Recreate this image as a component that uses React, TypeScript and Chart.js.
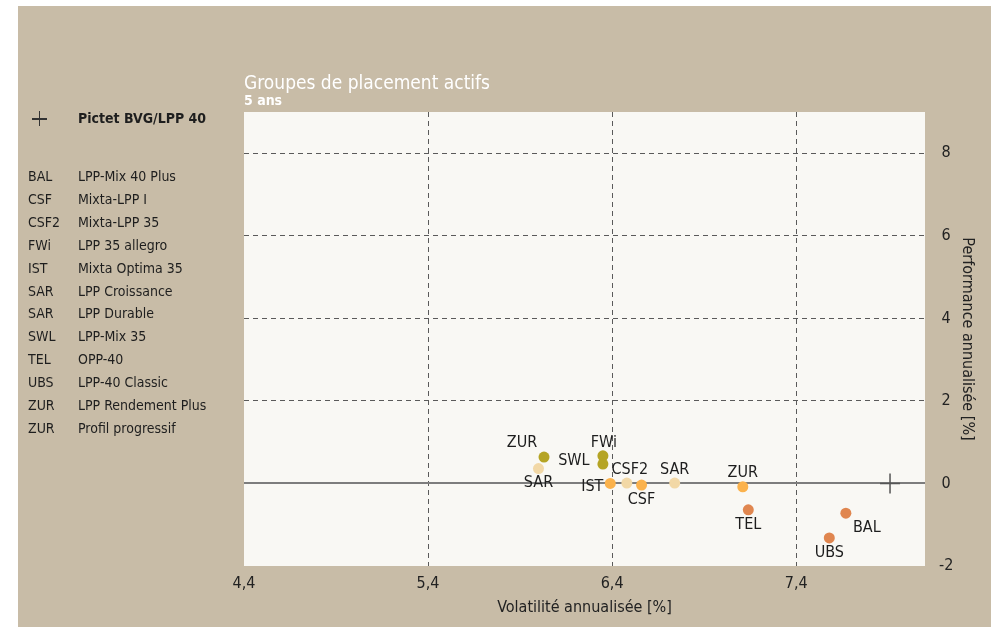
import React, { useEffect, useRef } from 'react';
import { Chart, registerables } from 'chart.js';

Chart.register(...registerables);

const FONT = "'Liberation Sans Narrow', 'DejaVu Sans Condensed', 'Liberation Sans', sans-serif";
const BEIGE = '#c8bca7';
const PLOT_BG = '#f9f8f4';

// ---- data ----
const fundCodes = ['ZUR', 'SAR', 'FWi', 'SWL', 'IST', 'CSF2', 'CSF', 'SAR', 'ZUR', 'TEL', 'BAL', 'UBS'];
const fundVolatility = [6.03, 6.0, 6.35, 6.35, 6.39, 6.48, 6.56, 6.74, 7.11, 7.14, 7.67, 7.58];
const fundPerformance = [0.64, 0.36, 0.67, 0.47, 0.0, 0.01, -0.04, 0.01, -0.08, -0.64, -0.72, -1.32];
const fundGroup = [0, 1, 0, 0, 2, 1, 2, 1, 2, 3, 3, 3];

const benchmarkName = 'Pictet BVG/LPP 40';
const benchmarkVolatility = [7.91];
const benchmarkPerformance = [0.0];

const legendCodes = ['BAL', 'CSF', 'CSF2', 'FWi', 'IST', 'SAR', 'SAR', 'SWL', 'TEL', 'UBS', 'ZUR', 'ZUR'];
const legendNames = [
  'LPP-Mix 40 Plus', 'Mixta-LPP I', 'Mixta-LPP 35', 'LPP 35 allegro', 'Mixta Optima 35',
  'LPP Croissance', 'LPP Durable', 'LPP-Mix 35', 'OPP-40', 'LPP-40 Classic',
  'LPP Rendement Plus', 'Profil progressif',
];

const xTicks = [4.4, 5.4, 6.4, 7.4];
const yTicks = [-2, 0, 2, 4, 6, 8];

// ---- styles ----
const groupColors = ['#b5a424', '#f2d8a6', '#fbb24c', '#e0864f'];
const labelOffsets: [number, number][] = [
  [-22, -14], [0, 14], [1, -13], [-29, -3], [-18, 3], [3, -13],
  [0, 15], [0, -13], [0, -14], [0, 15], [21, 15], [0, 15],
];

const bgPlugin = {
  id: 'plotBg',
  beforeDraw(chart: any) {
    const { ctx, chartArea } = chart;
    ctx.save();
    ctx.fillStyle = PLOT_BG;
    ctx.fillRect(chartArea.left, chartArea.top, chartArea.right - chartArea.left, chartArea.bottom - chartArea.top);
    ctx.restore();
  },
};

const labelPlugin = {
  id: 'pointLabels',
  afterDatasetsDraw(chart: any) {
    const meta = chart.getDatasetMeta(1);
    const ctx = chart.ctx;
    ctx.save();
    ctx.font = `16px ${FONT}`;
    ctx.fillStyle = '#1e1e1e';
    ctx.textAlign = 'center';
    ctx.textBaseline = 'middle';
    meta.data.forEach((el: any, i: number) => {
      const [dx, dy] = labelOffsets[i];
      ctx.fillText(fundCodes[i], el.x + dx, el.y + dy);
    });
    ctx.restore();
  },
};

const fmtComma = (v: number) => v.toFixed(1).replace('.', ',');

export default function App() {
  const ref = useRef<HTMLCanvasElement>(null);

  useEffect(() => {
    const chart = new Chart(ref.current!, {
      type: 'scatter',
      data: {
        datasets: [
          {
            label: benchmarkName,
            data: benchmarkVolatility.map((x, i) => ({ x, y: benchmarkPerformance[i] })),
            pointStyle: 'cross',
            pointRadius: 10,
            borderColor: '#555555',
            borderWidth: 1.5,
            backgroundColor: '#555555',
          },
          {
            label: 'Groupes',
            data: fundVolatility.map((x, i) => ({ x, y: fundPerformance[i] })),
            pointRadius: 5.5,
            pointBorderWidth: 0,
            pointBackgroundColor: fundGroup.map((g) => groupColors[g]),
            pointBorderColor: fundGroup.map((g) => groupColors[g]),
          },
        ],
      },
      options: {
        responsive: false,
        animation: false,
        layout: { padding: { left: 226, top: 106, right: 6, bottom: 6 } },
        plugins: { legend: { display: false }, tooltip: { enabled: false }, title: { display: false } },
        scales: {
          x: {
            type: 'linear',
            position: 'bottom',
            min: 4.4,
            max: 8.1,
            afterBuildTicks: (s: any) => { s.ticks = xTicks.map((v) => ({ value: v })); },
            afterFit: (s: any) => { s.height = 55; },
            ticks: {
              callback: (v: any) => fmtComma(Number(v)),
              font: { family: FONT, size: 16 },
              color: '#222222',
              padding: 8,
              maxRotation: 0,
              autoSkip: false,
            },
            grid: {
              color: (c: any) => (c.tick && Math.abs(c.tick.value - 4.4) < 1e-6 ? 'rgba(0,0,0,0)' : '#5a5a5a'),
              lineWidth: 1,
              drawTicks: false,
            },
            border: { display: false, dash: [5, 4] },
            title: {
              display: true,
              text: 'Volatilité annualisée [%]',
              font: { family: FONT, size: 16 },
              color: '#222222',
              padding: { top: 0, bottom: 4 },
            },
          },
          y: {
            type: 'linear',
            position: 'right',
            min: -2,
            max: 9,
            afterBuildTicks: (s: any) => { s.ticks = yTicks.map((v) => ({ value: v })); },
            afterFit: (s: any) => { s.width = 60; },
            ticks: {
              callback: (v: any) => String(v),
              font: { family: FONT, size: 16 },
              color: '#222222',
              padding: 14,
              crossAlign: 'center',
            },
            grid: {
              color: (c: any) => {
                const v = c.tick ? c.tick.value : null;
                if (v === -2) return 'rgba(0,0,0,0)';
                if (v === 0) return '#7d7d7d';
                return '#5a5a5a';
              },
              lineWidth: (c: any) => (c.tick && c.tick.value === 0 ? 2 : 1),
              drawTicks: false,
            },
            border: {
              display: false,
              dash: (c: any) => (c.tick && c.tick.value === 0 ? [] : [5, 4]),
            },
            title: {
              display: true,
              text: 'Performance annualisée [%]',
              font: { family: FONT, size: 16 },
              color: '#222222',
              padding: { top: 8, bottom: 0 },
            },
          },
        },
      },
      plugins: [bgPlugin, labelPlugin],
    } as any);
    return () => chart.destroy();
  }, []);

  const rowTop = (i: number) => 170 + 22.9 * i - 9;

  return (
    <div
      style={{
        position: 'absolute',
        left: 18,
        top: 6,
        width: 973,
        height: 621,
        background: BEIGE,
        fontFamily: FONT,
        color: '#1e1e1e',
        overflow: 'hidden',
      }}
    >
      <canvas ref={ref} width={973} height={621} style={{ position: 'absolute', left: 0, top: 0, width: 973, height: 621 }} />
      <div style={{ position: 'absolute', left: 226, top: 66, fontSize: 19, lineHeight: '20px', color: '#ffffff', whiteSpace: 'nowrap' }}>
        Groupes de placement actifs
      </div>
      <div style={{ position: 'absolute', left: 226, top: 86, fontSize: 14, lineHeight: '16px', fontWeight: 'bold', color: '#ffffff', whiteSpace: 'nowrap' }}>
        5 ans
      </div>
      {/* benchmark legend */}
      <div style={{ position: 'absolute', left: 14, top: 112, width: 15, height: 1.5, background: '#333' }} />
      <div style={{ position: 'absolute', left: 20.75, top: 105, width: 1.5, height: 15, background: '#333' }} />
      <div style={{ position: 'absolute', left: 60, top: 103, fontSize: 14, lineHeight: '18px', fontWeight: 'bold', whiteSpace: 'nowrap' }}>
        {benchmarkName}
      </div>
      {legendCodes.map((c, i) => (
        <React.Fragment key={i}>
          <div style={{ position: 'absolute', left: 10, top: rowTop(i), fontSize: 14, lineHeight: '18px', whiteSpace: 'nowrap' }}>{c}</div>
          <div style={{ position: 'absolute', left: 60, top: rowTop(i), fontSize: 14, lineHeight: '18px', whiteSpace: 'nowrap' }}>{legendNames[i]}</div>
        </React.Fragment>
      ))}
    </div>
  );
}
